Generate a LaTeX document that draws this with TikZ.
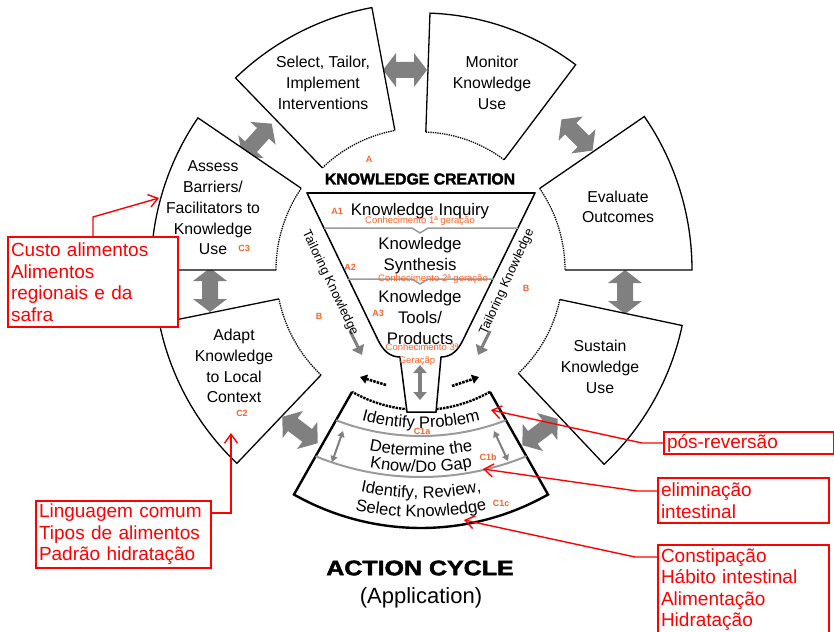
\documentclass[tikz,border=0pt]{standalone}
\usepackage{fontspec}
\setmainfont{Liberation Sans}
\newfontfamily\heavyfont{Liberation Sans}[FakeBold=2]
\usepackage{tikz}
\usetikzlibrary{arrows.meta,calc,decorations.text,positioning}

\definecolor{cyclegrey}{RGB}{128,128,128}
\definecolor{linegrey}{RGB}{155,155,155}
\definecolor{codeorange}{RGB}{250,100,40}
\definecolor{notered}{RGB}{255,0,0}

\newcommand{\phasebox}[5]{% start angle, end angle, inner r, outer r, style
  \fill[white] (#1:#3) -- (#1:#4) arc[start angle=#1,end angle=#2,radius=#4] -- (#2:#3) arc[start angle=#2,end angle=#1,radius=#3] -- cycle;
  \draw[#5] (#1:#3) -- (#1:#4) arc[start angle=#1,end angle=#2,radius=#4] -- (#2:#3);
  \draw[#5,densely dotted] (#2:#3) arc[start angle=#2,end angle=#1,radius=#3];
}
\newcommand{\phasefont}{\fontsize{15.8}{20.7}\selectfont}
\newcommand{\funnelfont}{\fontsize{16.8}{21}\selectfont}
\newcommand{\cyclefont}{\fontsize{16.6}{18}\selectfont}
\newcommand{\notefont}{\fontsize{19}{21.5}\selectfont}

\tikzset{
  phase/.style={line width=1.3pt},
  thickphase/.style={line width=2.4pt},
  phasetext/.style={align=center,font=\phasefont,inner sep=0pt},
  code/.style={text=codeorange,font=\fontsize{9}{10}\selectfont\bfseries,inner sep=0pt},
  gen/.style={text=codeorange,font=\fontsize{9.5}{10}\selectfont,inner sep=0pt},
  divider/.style={draw=linegrey,line width=1.5pt},
  fatarrow/.pic={\fill[cyclegrey] (-22,0) -- (-9,17) -- (-9,8) -- (9,8) -- (9,17) -- (22,0) -- (9,-17) -- (9,-8) -- (-9,-8) -- (-9,-17) -- cycle;},
  notebox/.style={draw=notered,line width=2pt,fill=white,text=notered,font=\notefont,align=left,inner xsep=3pt,inner ysep=0pt,anchor=north west},
  note/.style={draw=notered,line width=1.4pt,-{Straight Barb[length=9pt,width=13pt]}},
}

\begin{document}
\begin{tikzpicture}[x=1pt,y=1pt]
\useasboundingbox (0,0) rectangle (834,-631);
\clip (0,0) rectangle (834,-631);
\fill[white] (0,0) rectangle (834,-631);

% arrows between the phases
\pic[rotate=0] at (405,-70) {fatarrow};
\pic[rotate=48] at (257,-140) {fatarrow};
\pic[rotate=-45] at (577,-135) {fatarrow};
\pic[rotate=90] at (625,-292) {fatarrow};
\pic[rotate=90] at (210,-290) {fatarrow};
\pic[rotate=-37] at (300,-430) {fatarrow};
\pic[rotate=37] at (540,-432) {fatarrow};

% action cycle
\begin{scope}[shift={(421,-270)}]
\phasebox{145.7}{180}{145}{270}{phase}
\phasebox{100.6}{134}{142}{267}{phase}
\phasebox{53}{88}{138}{257}{phase}
\phasebox{0}{34.5}{144}{271}{phase}
\phasebox{-46.7}{-12}{142}{267}{phase}
\phasebox{191.5}{226.4}{145}{267}{phase}
\phasebox{240.5}{299.5}{140}{258}{thickphase}
\begin{scope}
\clip (240.5:140) -- (240.5:258) arc[start angle=240.5,end angle=299.5,radius=258] -- (299.5:140) arc[start angle=299.5,end angle=240.5,radius=140] -- cycle;
\draw[divider,line width=2pt] ($(0,70)+(225:236)$) arc[start angle=225,end angle=315,radius=236];
\draw[divider,line width=2pt] ($(0,70)+(225:277)$) arc[start angle=225,end angle=315,radius=277];
\end{scope}
\path[decorate,decoration={text along path,text align=center,text={|\cyclefont|Identify Problem}}] ($(0,70)+(245:228)$) arc[start angle=245,end angle=295,radius=228];
\path[decorate,decoration={text along path,text align=center,text={|\cyclefont|Determine the}}] ($(0,70)+(245:256)$) arc[start angle=245,end angle=295,radius=256];
\path[decorate,decoration={text along path,text align=center,text={|\cyclefont|Know/Do Gap}}] ($(0,70)+(245:272)$) arc[start angle=245,end angle=295,radius=272];
\path[decorate,decoration={text along path,text align=center,text={|\cyclefont|Identify, Review,}}] ($(0,70)+(248:298)$) arc[start angle=248,end angle=292,radius=298];
\path[decorate,decoration={text along path,text align=center,text={|\cyclefont|Select Knowledge}}] ($(0,70)+(248:317)$) arc[start angle=248,end angle=292,radius=317];
\end{scope}

\coordinate (gapL1) at (343,-431);
\coordinate (gapL2) at (332,-462);
\coordinate (gapR1) at (494,-431);
\coordinate (gapR2) at (508,-461);
\draw[draw=cyclegrey,line width=2pt,{Triangle[length=6pt,width=7pt]}-{Triangle[length=6pt,width=7pt]}] (gapL1) -- (gapL2);
\draw[draw=cyclegrey,line width=2pt,{Triangle[length=6pt,width=7pt]}-{Triangle[length=6pt,width=7pt]}] (gapR1) -- (gapR2);

% knowledge funnel
\draw[line width=1.5pt,fill=white] (307,-193) -- (378,-340) to[out=-64,in=180] (400,-357) -- (407,-412) -- (436,-412) -- (441,-357) to[out=0,in=-116] (463,-340) -- (535,-193) -- cycle;
\draw[line width=2.2pt] (307,-193) -- (535,-193);
\draw[divider] (324,-228) -- (412,-228) -- (420,-233) -- (428,-228) -- (518,-228);
\draw[divider] (348,-279) -- (412,-279) -- (420,-284) -- (428,-279) -- (494,-279);

\coordinate (stemT) at (420,-365);
\coordinate (stemB) at (420,-400);
\draw[draw=cyclegrey,fill=cyclegrey,line width=4pt,{Triangle[length=8pt,width=13pt]}-{Triangle[length=8pt,width=13pt]}] (stemT) -- (stemB);
\coordinate (tailL1) at (350,-331);
\coordinate (tailL2) at (362,-355);
\coordinate (tailR1) at (490,-331);
\coordinate (tailR2) at (478,-355);
\draw[draw=cyclegrey,line width=3pt,-{Triangle[length=9pt,width=13pt]}] (tailL1) -- (tailL2);
\draw[draw=cyclegrey,line width=3pt,-{Triangle[length=9pt,width=13pt]}] (tailR1) -- (tailR2);
\coordinate (spillL1) at (386,-385);
\coordinate (spillL2) at (360,-377);
\coordinate (spillR1) at (452,-386);
\coordinate (spillR2) at (479,-377);
\draw[line width=2.6pt,densely dotted,-{Triangle[length=7pt,width=9pt]}] (spillL1) -- (spillL2);
\draw[line width=2.6pt,densely dotted,-{Triangle[length=7pt,width=9pt]}] (spillR1) -- (spillR2);

% phase texts
\node[phasetext] (assess) at (213,-208) {Assess\\Barriers/\\Facilitators to\\Knowledge\\Use};
\node[phasetext] (select) at (323,-83) {Select, Tailor,\\Implement\\Interventions};
\node[phasetext] (monitor) at (492,-83) {Monitor\\Knowledge\\Use};
\node[phasetext] (evaluate) at (618,-207) {Evaluate\\Outcomes};
\node[phasetext] (sustain) at (600,-367) {Sustain\\Knowledge\\Use};
\node[phasetext] (adapt) at (234,-366) {Adapt\\Knowledge\\to Local\\Context};

\node[font=\heavyfont\bfseries\fontsize{15.8}{18}\selectfont,inner sep=0pt] (kc) at (420,-179) {KNOWLEDGE CREATION};
\node[font=\funnelfont,inner sep=0pt] (inquiry) at (420,-211) {Knowledge Inquiry};
\node[font=\funnelfont,align=center,inner sep=0pt] (synthesis) at (420,-256) {Knowledge\\Synthesis};
\node[font=\funnelfont,align=center,inner sep=0pt] (tools) at (420,-317) {Knowledge\\Tools/\\Products};
\node[font=\fontsize{12.8}{14}\selectfont,rotate=-64.5,inner sep=0pt] (tailorL) at (330,-283) {Tailoring Knowledge};
\node[font=\fontsize{12.8}{14}\selectfont,rotate=65.5,inner sep=0pt] (tailorR) at (507,-282) {Tailoring Knowledge};

\node[gen] (gen1) at (420,-221) {Conhecimento 1ª geração};
\node[gen] (gen2) at (433,-279) {Conhecimento 2ª geração};
\node[gen] (gen3) at (422,-347) {Conhecimento 3ª};
\node[gen] (gen3b) at (417,-361) {Geraçãp};

\node[code] (lblA) at (369,-159) {A};
\node[code] (lblA1) at (337,-211) {A1};
\node[code] (lblA2) at (350,-267) {A2};
\node[code] (lblA3) at (378,-313) {A3};
\node[code] (lblBL) at (319,-316) {B};
\node[code] (lblBR) at (526,-288) {B};
\node[code] (lblC3) at (244,-248) {C3};
\node[code] (lblC2) at (242,-413) {C2};
\node[code] (lblC1a) at (422,-431) {C1a};
\node[code] (lblC1b) at (488,-457) {C1b};
\node[code] (lblC1c) at (501,-503) {C1c};

\node[inner sep=0pt] (title) at (420,-568) {\heavyfont\bfseries\fontsize{21}{24}\selectfont\scalebox{1.19}[1]{ACTION CYCLE}};
\node[font=\fontsize{22}{26}\selectfont,inner sep=0pt] (subtitle) at (421,-598) {(Application)};

% notes
\node[notebox,minimum width=170pt,minimum height=90pt,text width=164pt] (custo) at (7,-236) {Custo alimentos\\Alimentos\\regionais e da\\safra};
\node[notebox,minimum width=175pt,minimum height=67pt,text width=169pt] (lingua) at (35,-500) {Linguagem comum\\Tipos de alimentos\\Padrão hidratação};
\node[notebox,minimum width=170pt,minimum height=22pt,text width=164pt] (posrev) at (663,-431) {pós-reversão};
\node[notebox,minimum width=171pt,minimum height=45pt,text width=165pt] (elim) at (657,-477) {eliminação\\intestinal};
\node[notebox,minimum width=171pt,minimum height=89pt,text width=165pt] (constip) at (657,-544) {Constipação\\Hábito intestinal\\Alimentação\\Hidratação};

\coordinate (tipC3) at (159,-198);
\coordinate (tipC2) at (231,-433);
\coordinate (tipC1a) at (491,-410);
\coordinate (tipC1b) at (483,-469);
\coordinate (tipC1c) at (464,-520);
\draw[note] (custo.north) -- ++(0,19) -- (tipC3);
\draw[note] ($(lingua.north east)+(0,-13)$) -| (tipC2);
\draw[note] (posrev.west) -- ++(-21,0) -- (tipC1a);
\draw[note] ($(elim.north west)+(0,-14)$) -- ++(-20,0) -- (tipC1b);
\draw[note] ($(constip.north west)+(0,-13)$) -- ++(-22,0) -- (tipC1c);
\end{tikzpicture}
\end{document}
